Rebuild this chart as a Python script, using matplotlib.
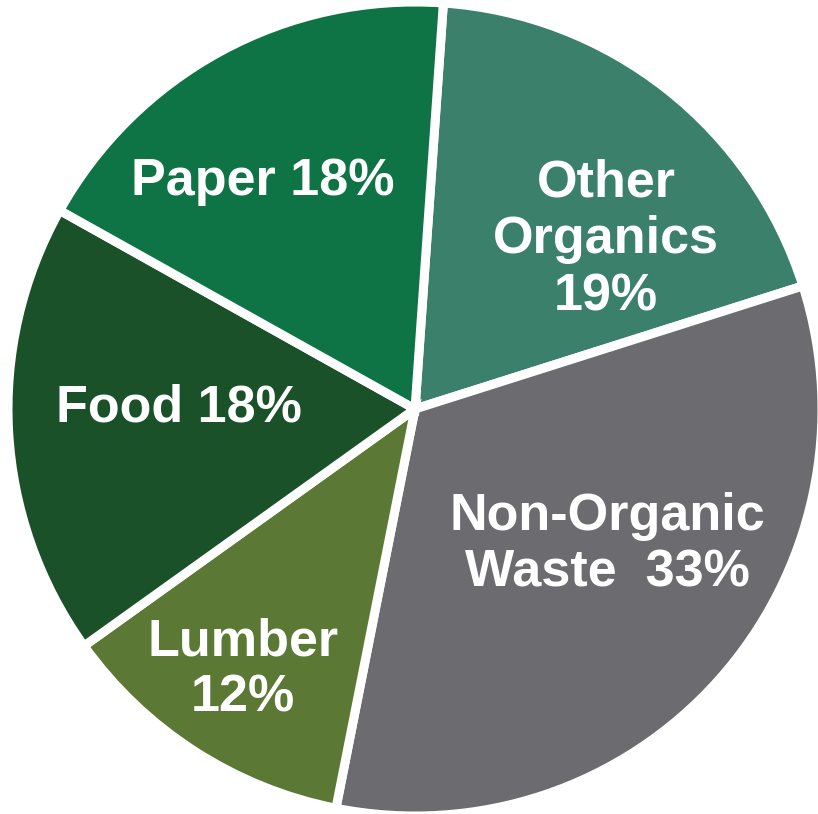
import matplotlib
matplotlib.use('Agg')
from matplotlib import pyplot as plt

# data
labels = ['Other\nOrganics\n19%', 'Non-Organic\nWaste  33%', 'Lumber\n12%', 'Food 18%', 'Paper 18%']
values = [19, 33, 12, 18, 18]
colors = ['#3b806a', '#6b6b70', '#5b7835', '#1b5128', '#0f7445']

# label centres in pixels of the picture
label_px = [(606, 240), (607, 545), (243, 670), (179, 408), (263, 182)]

W, H = 818, 814
cx, cy, R = 415, 409, 407

fig = plt.figure(figsize=(W / 100, H / 100), dpi=100)
ax = fig.add_axes([(cx - R) / W, (H - cy - R) / H, 2 * R / W, 2 * R / H])

wedges, _ = ax.pie(values, colors=colors, startangle=86, counterclock=False,
                   radius=1.0, center=(0, 0),
                   wedgeprops=dict(edgecolor='white', linewidth=6.5))

for lab, (px, py) in zip(labels, label_px):
    ax.text((px - cx) / R, (cy - py) / R, lab, ha='center', va='center',
            color='white', fontsize=37.5, fontweight='bold',
            family='Liberation Sans', linespacing=1.2)

ax.set_xlim(-1, 1)
ax.set_ylim(-1, 1)
ax.set_aspect('equal')
ax.axis('off')

fig.savefig('out.png', dpi=100, facecolor='white')
